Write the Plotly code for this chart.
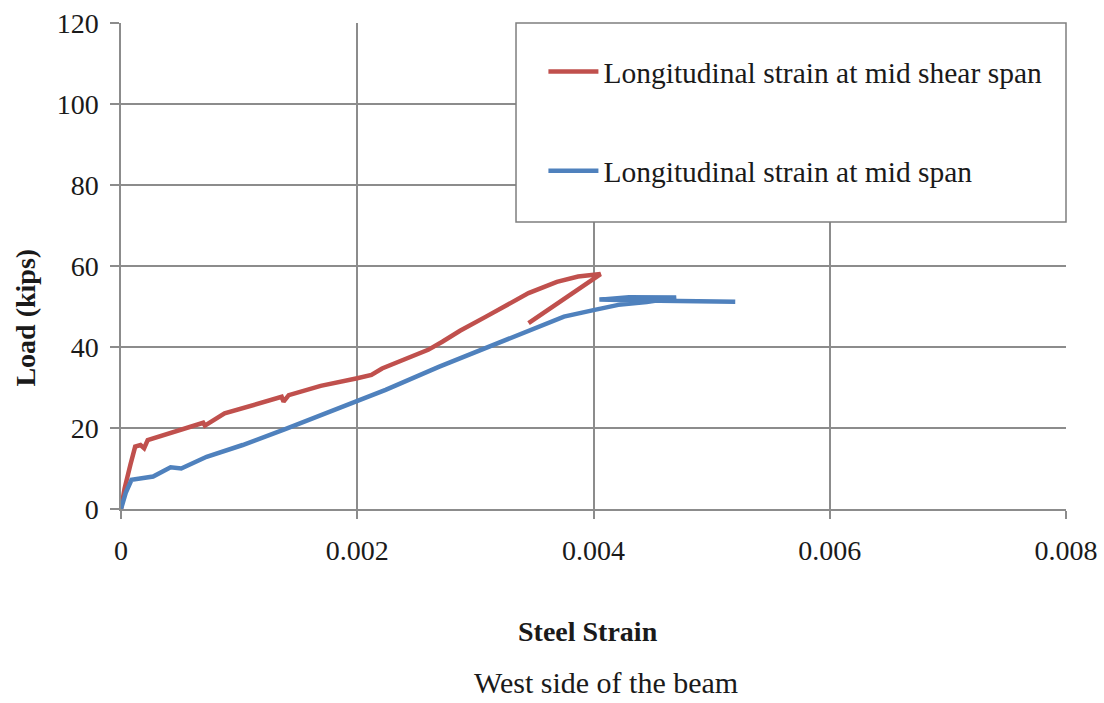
import plotly.graph_objects as go

# Load vs. steel strain, west side of the beam
strain_shear = [0, 0.00003, 0.00008, 0.00012, 0.000165, 0.000196, 0.000226, 0.00042,
                0.00065, 0.000696, 0.00071, 0.000877, 0.00136, 0.001376, 0.00142,
                0.00169, 0.002, 0.00212, 0.00221, 0.00239, 0.0026, 0.00272, 0.00287,
                0.00309, 0.00327, 0.00345, 0.00369, 0.00387, 0.00406, 0.00345]
load_shear = [0, 5, 11, 15.4, 15.8, 15.0, 17.0, 18.7,
              20.8, 21.3, 20.6, 23.6, 27.7, 26.5, 28.1,
              30.4, 32.3, 33.1, 34.7, 36.8, 39.3, 41.3, 44.0,
              47.5, 50.5, 53.3, 56.1, 57.4, 58.0, 45.9]

strain_mid = [0, 0.00004, 0.000089, 0.000272, 0.00042, 0.00051, 0.000725, 0.00103,
              0.00139, 0.00163, 0.002, 0.00224, 0.00269, 0.00315, 0.00345, 0.00375,
              0.0040, 0.00421, 0.00445, 0.0047, 0.0043, 0.00405, 0.0044, 0.0048, 0.0052]
load_mid = [0, 4, 7.2, 8.0, 10.3, 10.0, 12.9, 15.8,
            19.7, 22.4, 26.7, 29.4, 35.1, 40.5, 44.2, 47.5,
            49.1, 50.4, 51.1, 52.2, 52.3, 51.7, 51.5, 51.3, 51.2]

x_ticks = [0, 0.002, 0.004, 0.006, 0.008]
x_tick_text = ["0", "0.002", "0.004", "0.006", "0.008"]
y_ticks = [0, 20, 40, 60, 80, 100, 120]

SERIF = "Liberation Serif"
INK = "#1a1a1a"
GRID = "#8c8c8c"

fig = go.Figure()
fig.add_trace(go.Scatter(
    x=strain_shear, y=load_shear, mode="lines",
    name="Longitudinal strain at mid shear span", legendgroup="a",
    line=dict(color="#C0504D", width=4.5),
))
fig.add_trace(go.Scatter(
    x=strain_mid, y=load_mid, mode="lines",
    name="Longitudinal strain at mid span", legendgroup="b",
    line=dict(color="#4F81BD", width=4.5),
))

fig.update_layout(
    width=1104, height=703,
    margin=dict(l=121, r=38, t=23, b=194),
    paper_bgcolor="white", plot_bgcolor="white",
    font=dict(family=SERIF, size=28, color=INK),
    showlegend=True,
    legend=dict(
        x=0.447, y=0.953, xanchor="left", yanchor="top",
        bgcolor="rgba(0,0,0,0)", borderwidth=0,
        font=dict(family=SERIF, size=29.5, color=INK),
        tracegroupgap=58, itemwidth=50,
    ),
    xaxis=dict(
        range=[0, 0.008], tickvals=x_ticks, ticktext=x_tick_text,
        showgrid=True, gridcolor=GRID, gridwidth=1.5,
        showline=True, linecolor=GRID, linewidth=1.5,
        ticks="outside", ticklen=8, tickcolor=GRID, tickwidth=1.5,
        ticklabelstandoff=8, zeroline=False, automargin=False,
        tickfont=dict(family=SERIF, size=28, color=INK),
    ),
    yaxis=dict(
        range=[0, 120], tickvals=y_ticks,
        showgrid=True, gridcolor=GRID, gridwidth=1.5,
        showline=True, linecolor=GRID, linewidth=1.5,
        ticks="outside", ticklen=9, tickcolor=GRID, tickwidth=1.5,
        ticklabelstandoff=6, zeroline=False, automargin=False,
        tickfont=dict(family=SERIF, size=28, color=INK),
    ),
    shapes=[dict(
        type="rect", xref="paper", yref="paper",
        x0=0.418, x1=1.0, y0=0.5905, y1=1.0,
        line=dict(color="#7f7f7f", width=1.5), fillcolor="white", layer="above",
    )],
    annotations=[
        dict(text="<b>Load (kips)</b>", textangle=-90, xref="paper", yref="paper",
             x=-0.102, y=0.393, xanchor="center", yanchor="middle", showarrow=False,
             font=dict(family=SERIF, size=28, color=INK)),
        dict(text="<b>Steel Strain</b>", xref="paper", yref="paper",
             x=0.494, y=-0.253, xanchor="center", yanchor="middle", showarrow=False,
             font=dict(family=SERIF, size=28, color=INK)),
        dict(text="West side of the beam", xref="paper", yref="paper",
             x=0.513, y=-0.3955, xanchor="center", yanchor="bottom", showarrow=False,
             font=dict(family=SERIF, size=30, color=INK)),
    ],
)

fig.write_html("out.html")
